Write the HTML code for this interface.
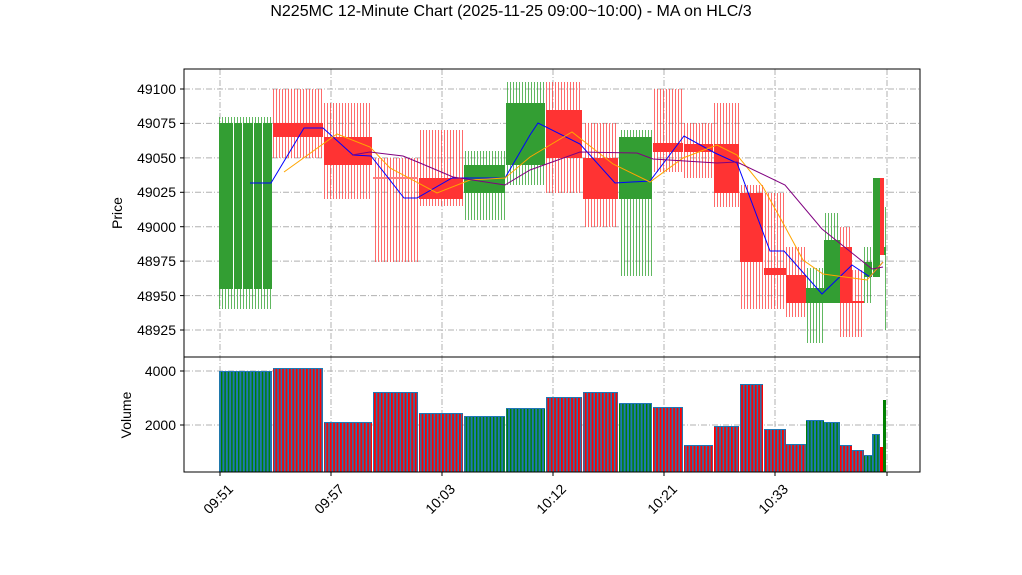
<!DOCTYPE html>
<html><head><meta charset="utf-8"><style>
body{margin:0;background:#fff}
svg{display:block;font-family:"Liberation Sans","DejaVu Sans",sans-serif}
</style></head><body>
<svg width="1022" height="575" viewBox="0 0 1022 575" xmlns="http://www.w3.org/2000/svg">
<defs>
<pattern id="wg" patternUnits="userSpaceOnUse" width="3" height="10"><rect x="0" y="0" width="1" height="10" fill="#2ca02c" opacity="0.75"/></pattern>
<pattern id="wr" patternUnits="userSpaceOnUse" width="3" height="10"><rect x="0" y="0" width="1" height="10" fill="#ff3b3b" opacity="0.75"/></pattern>
<pattern id="vg" patternUnits="userSpaceOnUse" width="3.4" height="10"><rect x="0" y="0" width="1.4" height="10" fill="#008000"/></pattern>
<pattern id="vr" patternUnits="userSpaceOnUse" width="3.4" height="10"><rect x="0" y="0" width="1.8" height="10" fill="#ff0000"/></pattern>
</defs>
<rect width="1022" height="575" fill="#fff"/>
<text x="511" y="16" font-size="16" text-anchor="middle">N225MC 12-Minute Chart (2025-11-25 09:00~10:00) - MA on HLC/3</text>

<g stroke="#b0b0b0" stroke-width="1" stroke-dasharray="6,2,1,2">
<line x1="184" x2="920" y1="89" y2="89"/><line x1="184" x2="920" y1="123.4" y2="123.4"/><line x1="184" x2="920" y1="157.9" y2="157.9"/><line x1="184" x2="920" y1="192.3" y2="192.3"/><line x1="184" x2="920" y1="226.7" y2="226.7"/><line x1="184" x2="920" y1="261.1" y2="261.1"/><line x1="184" x2="920" y1="295.6" y2="295.6"/><line x1="184" x2="920" y1="330" y2="330"/>
<line x1="184" x2="920" y1="371" y2="371"/><line x1="184" x2="920" y1="425" y2="425"/>
<line x1="220" x2="220" y1="69" y2="472"/><line x1="331" x2="331" y1="69" y2="472"/><line x1="442" x2="442" y1="69" y2="472"/><line x1="553" x2="553" y1="69" y2="472"/><line x1="664" x2="664" y1="69" y2="472"/><line x1="775" x2="775" y1="69" y2="472"/><line x1="887" x2="887" y1="69" y2="472"/>
</g>

<g>
<rect x="219" y="117" width="53" height="192" fill="url(#wg)"/>
<rect x="273" y="89" width="50" height="69" fill="url(#wr)"/>
<rect x="324" y="103" width="48" height="96" fill="url(#wr)"/>
<rect x="373" y="158" width="45" height="104" fill="url(#wr)"/>
<rect x="419" y="130" width="44" height="76" fill="url(#wr)"/>
<rect x="464" y="151" width="41" height="69" fill="url(#wg)"/>
<rect x="506" y="82" width="39" height="103" fill="url(#wg)"/>
<rect x="546" y="82" width="36" height="111" fill="url(#wr)"/>
<rect x="583" y="123" width="35" height="104" fill="url(#wr)"/>
<rect x="619" y="130" width="33" height="146" fill="url(#wg)"/>
<rect x="653" y="89" width="30" height="83" fill="url(#wr)"/>
<rect x="684" y="123" width="29" height="55" fill="url(#wr)"/>
<rect x="714" y="103" width="25" height="104" fill="url(#wr)"/>
<rect x="740" y="185" width="23" height="124" fill="url(#wr)"/>
<rect x="764" y="193" width="22" height="116" fill="url(#wr)"/>
<rect x="786" y="247" width="20" height="70" fill="url(#wr)"/>
<rect x="806" y="268" width="18" height="75" fill="url(#wg)"/>
<rect x="824" y="213" width="16" height="90" fill="url(#wg)"/>
<rect x="840" y="227" width="12" height="110" fill="url(#wr)"/>
<rect x="852" y="270" width="12" height="67" fill="url(#wr)"/>
<rect x="864" y="247" width="8" height="56" fill="url(#wg)"/>
<rect x="884" y="207" width="2" height="123" fill="url(#wg)"/>
</g>
<g>
<rect x="219" y="123" width="53" height="166" fill="#339e33"/>
<g fill="#fff"><rect x="233" y="123" width="1" height="166"/><rect x="242" y="123" width="1" height="166"/><rect x="253" y="123" width="1" height="166"/><rect x="262" y="123" width="1" height="166"/></g>
<rect x="273" y="123" width="50" height="14" fill="#ff3333"/>
<rect x="324" y="137" width="48" height="28" fill="#ff3333"/>
<rect x="373" y="177" width="45" height="2" fill="#ff8080"/>
<rect x="419" y="178" width="44" height="21" fill="#ff3333"/>
<rect x="464" y="165" width="41" height="28" fill="#339e33"/>
<rect x="506" y="103" width="39" height="62" fill="#339e33"/>
<rect x="546" y="110" width="36" height="48" fill="#ff3333"/>
<rect x="583" y="158" width="35" height="41" fill="#ff3333"/>
<rect x="619" y="137" width="33" height="62" fill="#339e33"/>
<rect x="653" y="143" width="30" height="9" fill="#ff3333"/>
<rect x="684" y="144" width="29" height="8" fill="#ff3333"/>
<rect x="714" y="144" width="25" height="49" fill="#ff3333"/>
<rect x="740" y="193" width="23" height="69" fill="#ff3333"/>
<rect x="764" y="268" width="22" height="7" fill="#ff3333"/>
<rect x="786" y="275" width="20" height="28" fill="#ff3333"/>
<rect x="806" y="288" width="18" height="15" fill="#339e33"/>
<rect x="824" y="240" width="16" height="63" fill="#339e33"/>
<rect x="840" y="247" width="12" height="56" fill="#ff3333"/>
<rect x="852" y="301" width="12" height="2" fill="#ff3333"/>
<rect x="864" y="262" width="8" height="15" fill="#339e33"/>
<rect x="873" y="178" width="7" height="99" fill="#339e33"/>
<rect x="880" y="178" width="4" height="77" fill="#ff3333"/>
<rect x="884" y="247" width="2" height="8" fill="#339e33"/>
</g>

<polyline fill="none" stroke="#0000ff" stroke-width="1" points="250,183 271,183 304,128 323,128 353,155 371,156 404,198 417,198 452,178 482,178 505,178 530,135 538,123 580,144 615,183 650,181 684,136 715,153 737,163 770,251 784,251 822,294 852,265 870,277 883,262"/>
<polyline fill="none" stroke="#ffa500" stroke-width="1" points="284,172 337,134 370,147 390,168 437,193 470,180 505,178 530,157 572,132 613,164 650,182 683,158 717,145 737,155 763,187 783,223 803,260 823,274 867,280 883,262"/>
<polyline fill="none" stroke="#800080" stroke-width="1" points="352,155 370,152 403,156 420,163 453,177 505,185 530,170 580,152 637,153 653,159 717,163 737,162 785,185 822,229 872,269 883,267"/>

<g>
<rect x="219" y="371" width="53" height="101" fill="#1f77b4"/><rect x="219" y="372" width="53" height="100" fill="url(#vg)"/>
<rect x="273" y="368" width="50" height="104" fill="#1f77b4"/><rect x="273" y="369" width="50" height="103" fill="url(#vr)"/>
<rect x="324" y="422" width="48" height="50" fill="#1f77b4"/><rect x="324" y="423" width="48" height="49" fill="url(#vr)"/>
<rect x="373" y="392" width="45" height="80" fill="#1f77b4"/><rect x="373" y="393" width="45" height="79" fill="url(#vr)"/>
<rect x="419" y="413" width="44" height="59" fill="#1f77b4"/><rect x="419" y="414" width="44" height="58" fill="url(#vr)"/>
<rect x="464" y="416" width="41" height="56" fill="#1f77b4"/><rect x="464" y="417" width="41" height="55" fill="url(#vg)"/>
<rect x="506" y="408" width="39" height="64" fill="#1f77b4"/><rect x="506" y="409" width="39" height="63" fill="url(#vg)"/>
<rect x="546" y="397" width="36" height="75" fill="#1f77b4"/><rect x="546" y="398" width="36" height="74" fill="url(#vr)"/>
<rect x="583" y="392" width="35" height="80" fill="#1f77b4"/><rect x="583" y="393" width="35" height="79" fill="url(#vr)"/>
<rect x="619" y="403" width="33" height="69" fill="#1f77b4"/><rect x="619" y="404" width="33" height="68" fill="url(#vg)"/>
<rect x="653" y="407" width="30" height="65" fill="#1f77b4"/><rect x="653" y="408" width="30" height="64" fill="url(#vr)"/>
<rect x="684" y="445" width="29" height="27" fill="#1f77b4"/><rect x="684" y="446" width="29" height="26" fill="url(#vr)"/>
<rect x="714" y="426" width="25" height="46" fill="#1f77b4"/><rect x="714" y="427" width="25" height="45" fill="url(#vr)"/>
<rect x="740" y="384" width="23" height="88" fill="#1f77b4"/><rect x="740" y="385" width="23" height="87" fill="url(#vr)"/>
<rect x="764" y="429" width="22" height="43" fill="#1f77b4"/><rect x="764" y="430" width="22" height="42" fill="url(#vr)"/>
<rect x="786" y="444" width="20" height="28" fill="#1f77b4"/><rect x="786" y="445" width="20" height="27" fill="url(#vr)"/>
<rect x="806" y="420" width="18" height="52" fill="#1f77b4"/><rect x="806" y="421" width="18" height="51" fill="url(#vg)"/>
<rect x="824" y="422" width="16" height="50" fill="#1f77b4"/><rect x="824" y="423" width="16" height="49" fill="url(#vg)"/>
<rect x="840" y="445" width="12" height="27" fill="#1f77b4"/><rect x="840" y="446" width="12" height="26" fill="url(#vr)"/>
<rect x="852" y="450" width="12" height="22" fill="#1f77b4"/><rect x="852" y="451" width="12" height="21" fill="url(#vr)"/>
<rect x="864" y="455" width="8" height="17" fill="#1f77b4"/><rect x="864" y="456" width="8" height="16" fill="url(#vg)"/>
<rect x="872" y="434" width="8" height="38" fill="#1f77b4"/><rect x="872" y="435" width="8" height="37" fill="url(#vg)"/>
<rect x="880" y="447" width="3" height="25" fill="#ff0000"/>
<rect x="883" y="400" width="3" height="72" fill="#008000"/>
</g>

<rect x="184" y="69" width="736" height="288" fill="none" stroke="#000" stroke-width="1"/>
<rect x="184" y="357" width="736" height="115" fill="none" stroke="#000" stroke-width="1"/>
<g stroke="#000">
<line x1="180" x2="184" y1="89" y2="89"/><line x1="180" x2="184" y1="123.4" y2="123.4"/><line x1="180" x2="184" y1="157.9" y2="157.9"/><line x1="180" x2="184" y1="192.3" y2="192.3"/><line x1="180" x2="184" y1="226.7" y2="226.7"/><line x1="180" x2="184" y1="261.1" y2="261.1"/><line x1="180" x2="184" y1="295.6" y2="295.6"/><line x1="180" x2="184" y1="330" y2="330"/>
<line x1="180" x2="184" y1="371" y2="371"/><line x1="180" x2="184" y1="425" y2="425"/>
<line x1="220" x2="220" y1="472" y2="476"/><line x1="331" x2="331" y1="472" y2="476"/><line x1="442" x2="442" y1="472" y2="476"/><line x1="553" x2="553" y1="472" y2="476"/><line x1="664" x2="664" y1="472" y2="476"/><line x1="775" x2="775" y1="472" y2="476"/><line x1="887" x2="887" y1="472" y2="476"/>
</g>
<g font-size="14" text-anchor="end">
<text x="176" y="94">49100</text><text x="176" y="128">49075</text><text x="176" y="163">49050</text><text x="176" y="197">49025</text><text x="176" y="232">49000</text><text x="176" y="266">48975</text><text x="176" y="301">48950</text><text x="176" y="335">48925</text>
<text x="176" y="376">4000</text><text x="176" y="430">2000</text>
</g>
<text transform="translate(122,213) rotate(-90)" font-size="14" text-anchor="middle">Price</text>
<text transform="translate(131,415) rotate(-90)" font-size="14" text-anchor="middle">Volume</text>
<g font-size="14" text-anchor="end">
<text transform="translate(234,490) rotate(-45)">09:51</text>
<text transform="translate(345,490) rotate(-45)">09:57</text>
<text transform="translate(456,490) rotate(-45)">10:03</text>
<text transform="translate(567,490) rotate(-45)">10:12</text>
<text transform="translate(678,490) rotate(-45)">10:21</text>
<text transform="translate(789,490) rotate(-45)">10:33</text>
</g>
</svg>
</body></html>
